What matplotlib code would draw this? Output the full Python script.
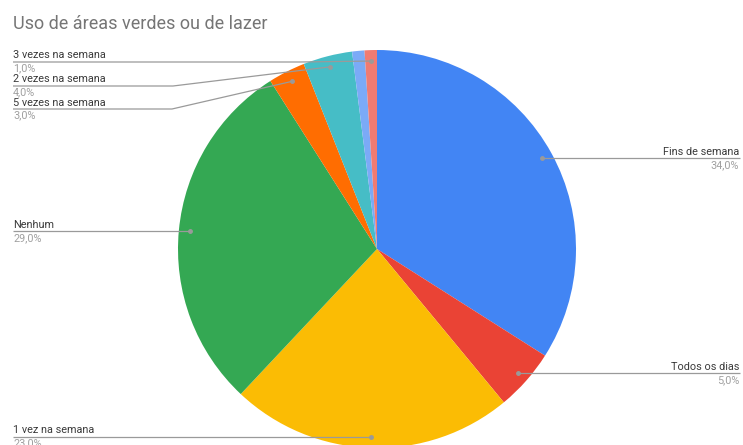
import numpy as np
import matplotlib.pyplot as plt

W, H = 743, 445

categories = ['Fins de semana', 'Todos os dias', '1 vez na semana', 'Nenhum',
              '5 vezes na semana', '2 vezes na semana', '4 vezes na semana',
              '3 vezes na semana']
values = [34, 5, 23, 29, 3, 4, 1, 1]
colors = ['#4285F4', '#EA4335', '#FBBC04', '#34A853', '#FF6D01', '#46BDC6',
          '#7BAAF7', '#F07B72']
pct_labels = ['34,0%', '5,0%', '23,0%', '29,0%', '3,0%', '4,0%', '1,0%', '1,0%']

plt.rcParams['font.family'] = ['Roboto', 'DejaVu Sans']

fig = plt.figure(figsize=(W / 100, H / 100), dpi=100)
ax = fig.add_axes([0, 0, 1, 1])

cx, cy, r = 377, H - 249, 199
wedges, _ = ax.pie(values, colors=colors, startangle=90, counterclock=False,
                   center=(cx, cy), radius=r, frame=True,
                   wedgeprops=dict(linewidth=0))
ax.set_xlim(0, W)
ax.set_ylim(0, H)
ax.set_aspect('equal')
ax.axis('off')

# label layout: (side, y of horizontal line in image px or None, elbow x)
layout = {
    0: ('right', None, None),
    1: ('right', None, None),
    2: ('left', None, None),
    3: ('left', None, None),
    4: ('left', 109, 172),
    5: ('left', 86, 173),
    7: ('left', 62, 300),
}

line_col = '#9a9a9a'
for i, (side, ly, ex) in layout.items():
    w = wedges[i]
    mid = np.deg2rad((w.theta1 + w.theta2) / 2)
    dx = cx + 0.945 * r * np.cos(mid)
    dy = cy + 0.945 * r * np.sin(mid)
    liney = dy if ly is None else H - ly
    xend = 740 if side == 'right' else 13
    if ex is None:
        xs, ys = [dx, xend], [dy, liney]
    else:
        xs, ys = [dx, ex, xend], [dy, liney, liney]
    ax.plot(xs, ys, color=line_col, lw=0.9, solid_capstyle='butt', zorder=5)
    ax.plot(dx, dy, 'o', ms=2.5, color=line_col, zorder=6)
    ha = 'right' if side == 'right' else 'left'
    tx = 739 if side == 'right' else 13
    ax.text(tx, liney + 1.5, categories[i], ha=ha, va='bottom', fontsize=7.8,
            color='#3a3a3a')
    ax.text(tx, liney - 1.5, pct_labels[i], ha=ha, va='top', fontsize=7.8,
            color='#a0a0a0')

fig.text(13 / W, 1 - 24 / H, 'Uso de áreas verdes ou de lazer', fontsize=13,
         color='#757575', va='center', ha='left')

fig.savefig('out.png', dpi=100)
